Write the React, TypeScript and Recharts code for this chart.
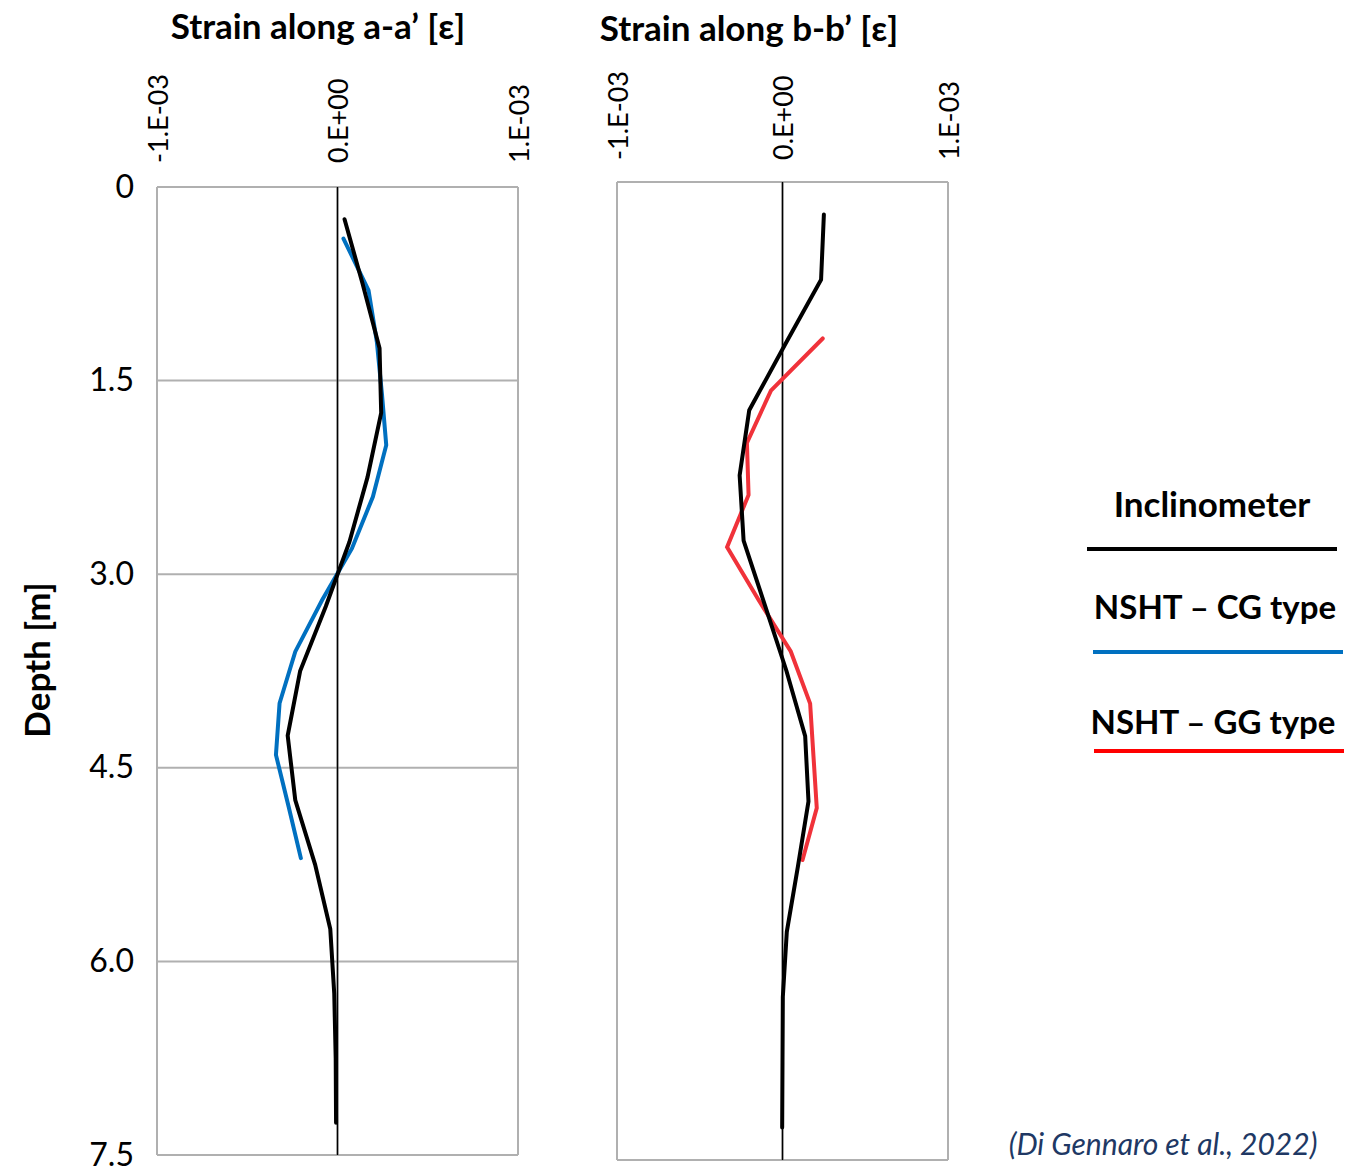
import { ScatterChart, Scatter, XAxis, YAxis, CartesianGrid, ReferenceLine } from "recharts";

// strain values are in units of 1e-3 (axis labels show the real scale)
const strainTicks = [-1, 0, 1];
const strainTickLabels = ["-1.E-03", "0.E+00", "1.E-03"];
const depthTicks = [0, 1.5, 3, 4.5, 6, 7.5];
const depthTickLabels = ["0", "1.5", "3.0", "4.5", "6.0", "7.5"];

// a-a'
const depthInclA = [0.25, 0.75, 1.25, 1.75, 2.25, 2.75, 3.25, 3.75, 4.25, 4.75, 5.25, 5.75, 6.25, 6.75, 7.25];
const strainInclA = [0.039, 0.139, 0.233, 0.242, 0.166, 0.066, -0.065, -0.207, -0.276, -0.234, -0.124, -0.04, -0.018, -0.01, -0.008];
const depthCG = [0.4, 0.8, 1.2, 1.6, 2.0, 2.4, 2.8, 3.2, 3.6, 4.0, 4.4, 4.8, 5.2];
const strainCG = [0.033, 0.172, 0.218, 0.246, 0.27, 0.196, 0.08, -0.085, -0.234, -0.321, -0.341, -0.271, -0.203];

// b-b'
const depthInclB = [0.25, 0.75, 1.25, 1.75, 2.25, 2.75, 3.25, 3.75, 4.25, 4.75, 5.25, 5.75, 6.25, 6.75, 7.25];
const strainInclB = [0.25, 0.233, 0.014, -0.201, -0.259, -0.235, -0.105, 0.024, 0.137, 0.157, 0.093, 0.026, 0.002, 0.0, -0.002];
const depthGG = [1.2, 1.6, 2.0, 2.4, 2.8, 3.2, 3.6, 4.0, 4.4, 4.8, 5.2];
const strainGG = [0.243, -0.07, -0.215, -0.205, -0.335, -0.147, 0.05, 0.167, 0.187, 0.207, 0.121];

const FONT = "Lato, 'Open Sans', sans-serif";
const GRID = "#B0B0B0";
const BLACK = "#000000";
const BLUE = "#0070C0";
const RED = "#F0323A";

const pts = (depths: number[], strains: number[]) => depths.map((d, i) => ({ x: strains[i], y: d }));

const noDot = () => <g />;

function makeXTick(baseY: number) {
  return (props: any) => {
    const { x, index } = props;
    return (
      <text
        x={x}
        y={baseY}
        transform={`rotate(-90, ${x}, ${baseY})`}
        textAnchor="start"
        dominantBaseline="central"
        fontFamily={FONT}
        fontSize={27}
        fill="#000"
      >
        {strainTickLabels[index]}
      </text>
    );
  };
}

function YTick(props: any) {
  const { y, index } = props;
  return (
    <text x={134} y={y - 2} textAnchor="end" dominantBaseline="central" fontFamily={FONT} fontSize={32} fill="#000">
      {depthTickLabels[index]}
    </text>
  );
}

interface PanelProps {
  left: number;
  width: number;
  margin: { top: number; left: number; right: number; bottom: number };
  tickBaseY: number;
  showDepth: boolean;
  colored: { x: number; y: number }[];
  color: string;
  incl: { x: number; y: number }[];
}

function Panel({ left, width, margin, tickBaseY, showDepth, colored, color, incl }: PanelProps) {
  return (
    <div style={{ position: "absolute", left, top: 0 }}>
      <ScatterChart width={width} height={1175} margin={margin}>
        <CartesianGrid stroke={GRID} strokeWidth={2} />
        <XAxis
          type="number"
          dataKey="x"
          orientation="top"
          domain={[-1, 1]}
          ticks={strainTicks}
          height={100}
          axisLine={false}
          tickLine={false}
          tick={makeXTick(tickBaseY)}
          allowDataOverflow
        />
        <YAxis
          type="number"
          dataKey="y"
          domain={[0, 7.5]}
          ticks={depthTicks}
          reversed
          width={showDepth ? 60 : 0}
          axisLine={false}
          tickLine={false}
          tick={showDepth ? YTick : false}
          allowDataOverflow
        />
        <ReferenceLine x={0} stroke="#000" strokeWidth={1.5} />
        <Scatter
          data={colored}
          line={{ stroke: color, strokeWidth: 4, strokeLinecap: "round" }}
          shape={noDot}
          fill="none"
          isAnimationActive={false}
        />
        <Scatter
          data={incl}
          line={{ stroke: BLACK, strokeWidth: 4, strokeLinecap: "round" }}
          shape={noDot}
          fill="none"
          isAnimationActive={false}
        />
      </ScatterChart>
    </div>
  );
}

export default function App() {
  return (
    <div style={{ position: "absolute", left: 0, top: 0, width: 1354, height: 1175, background: "#fff" }}>
      <Panel
        left={0}
        width={540}
        margin={{ top: 87, left: 97, right: 22, bottom: 20 }}
        tickBaseY={163}
        showDepth
        colored={pts(depthCG, strainCG)}
        color={BLUE}
        incl={pts(depthInclA, strainInclA)}
      />
      <Panel
        left={560}
        width={410}
        margin={{ top: 82, left: 57, right: 22, bottom: 15 }}
        tickBaseY={160}
        showDepth={false}
        colored={pts(depthGG, strainGG)}
        color={RED}
        incl={pts(depthInclB, strainInclB)}
      />
      <svg width={1354} height={1175} style={{ position: "absolute", left: 0, top: 0, pointerEvents: "none" }}>
        <g fontFamily={FONT} fontWeight="bold" fill="#000">
          <text x={318} y={25} textAnchor="middle" dominantBaseline="central" fontSize={35}>
            Strain along a-a’ [ε]
          </text>
          <text x={749} y={27} textAnchor="middle" dominantBaseline="central" fontSize={35}>
            Strain along b-b’ [ε]
          </text>
          <text x={36} y={660} textAnchor="middle" dominantBaseline="central" fontSize={35} transform="rotate(-90, 36, 660)">
            Depth [m]
          </text>
          <text x={1212} y={503} textAnchor="middle" dominantBaseline="central" fontSize={35}>
            Inclinometer
          </text>
          <text x={1215} y={606} textAnchor="middle" dominantBaseline="central" fontSize={33}>
            NSHT – CG type
          </text>
          <text x={1213} y={721} textAnchor="middle" dominantBaseline="central" fontSize={33}>
            NSHT – GG type
          </text>
        </g>
        <line x1={1087} x2={1337} y1={549} y2={549} stroke="#000" strokeWidth={4} />
        <line x1={1093} x2={1343} y1={652} y2={652} stroke={BLUE} strokeWidth={4} />
        <line x1={1094} x2={1344} y1={751} y2={751} stroke="#FF0000" strokeWidth={4} />
        <text
          x={1163}
          y={1143}
          textAnchor="middle"
          dominantBaseline="central"
          fontFamily={FONT}
          fontStyle="italic"
          fontSize={30}
          fill="#203864"
        >
          (Di Gennaro et al., 2022)
        </text>
      </svg>
    </div>
  );
}
